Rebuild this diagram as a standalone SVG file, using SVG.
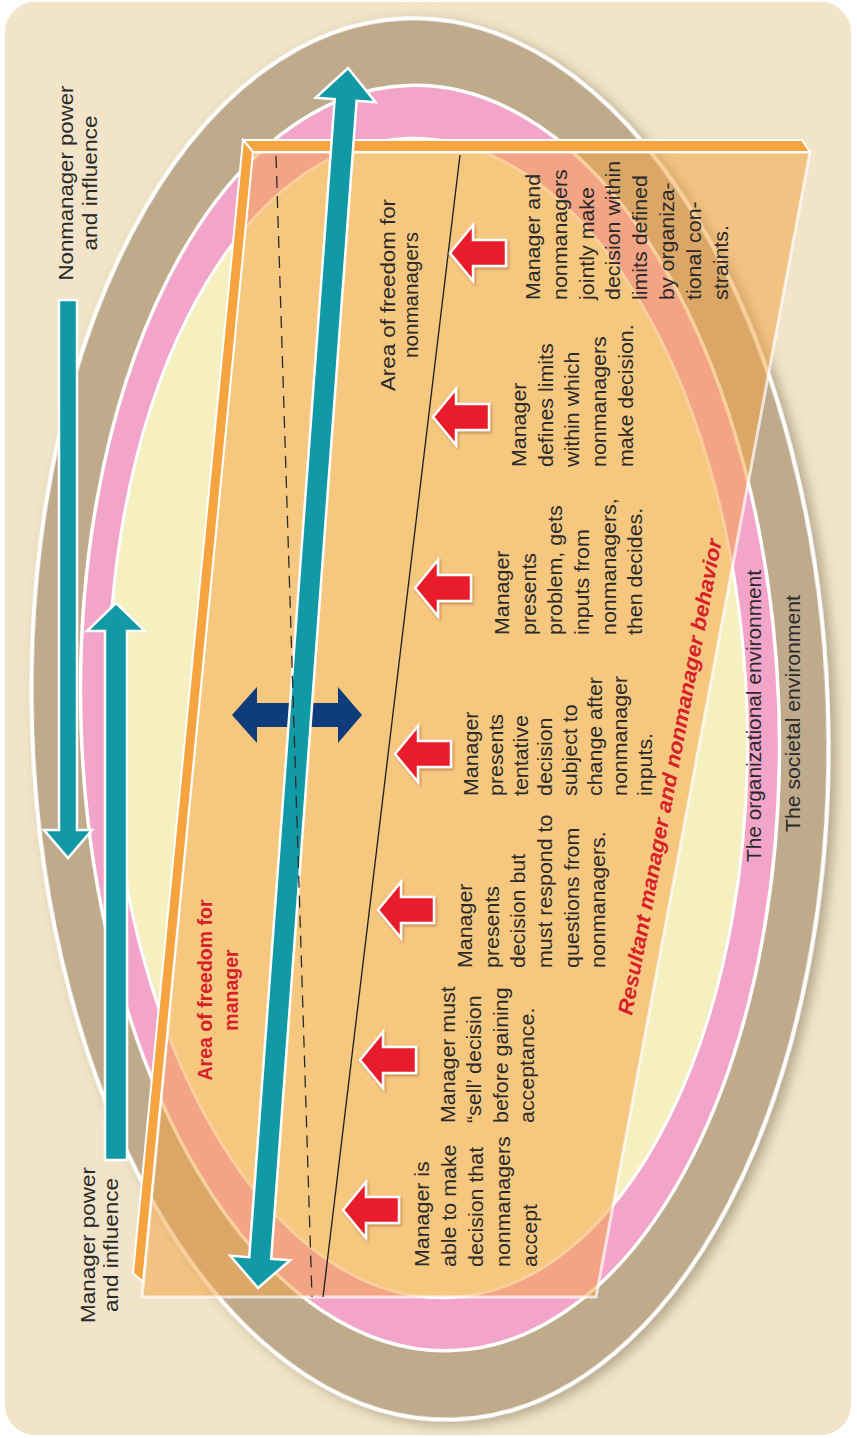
<svg xmlns="http://www.w3.org/2000/svg" width="857" height="1438" viewBox="0 0 857 1438">
<defs>
<style>
.t{font-family:"Liberation Sans",Arial,Helvetica,sans-serif;font-size:20px;fill:#2a2a2a}
.rb{font-family:"Liberation Sans",Arial,Helvetica,sans-serif;font-weight:bold;fill:#d6212c}
.teal{fill:#1299a6;stroke:#ffffff;stroke-width:2.5;stroke-linejoin:miter}
.red{fill:#e81f2a;stroke:#ffffff;stroke-width:2.5;filter:url(#sh2)}
.bar{fill:#f6a440;stroke:#ffffff;stroke-width:2}
</style>
<filter id="sh" x="-10%" y="-10%" width="125%" height="125%">
<feDropShadow dx="6" dy="4" stdDeviation="6" flood-color="#6e5e44" flood-opacity="0.45"/>
</filter>
<filter id="sh2" x="-20%" y="-20%" width="150%" height="150%">
<feDropShadow dx="1.5" dy="2" stdDeviation="1.2" flood-color="#7a2a10" flood-opacity="0.35"/>
</filter>
<polygon id="redArrow" points="0,0 23,-28 23,-13 56,-13 56,13 23,13 23,28"/>
</defs>

<rect x="0" y="0" width="857" height="1438" fill="#ffffff"/>
<rect x="5" y="2" width="846" height="1433" rx="30" ry="30" fill="#f1e4c8"/>

<g id="societal-environment">
<ellipse cx="430" cy="719" rx="398" ry="701" transform="rotate(-2 430 719)" fill="#bfab8b" stroke="#ffffff" stroke-width="4" filter="url(#sh)"/>
</g>
<g id="organizational-environment">
<ellipse cx="430" cy="718" rx="349" ry="633" transform="rotate(-2 430 718)" fill="#f2a4c9" stroke="#ffffff" stroke-width="3.5"/>
</g>
<g id="inner-area">
<ellipse cx="428" cy="718" rx="319" ry="580" transform="rotate(-2 428 718)" fill="#f6efbf" stroke="#ffffff" stroke-width="3"/>
</g>

<g id="env-labels">
<text class="t" transform="translate(761,862) rotate(-90)" textLength="292" lengthAdjust="spacingAndGlyphs">The organizational environment</text>
<text class="t" transform="translate(800,832) rotate(-90)" textLength="237" lengthAdjust="spacingAndGlyphs">The societal environment</text>
</g>

<g id="nonmanager-power">
<polygon class="teal" points="59,300 77,300 77,830 92,830 68,858 44,830 59,830"/>
<g class="t" transform="translate(0,183) rotate(-90)" text-anchor="middle">
<text x="0" y="73" textLength="195" lengthAdjust="spacingAndGlyphs">Nonmanager power</text>
<text x="0" y="97" textLength="135" lengthAdjust="spacingAndGlyphs">and influence</text>
</g>
</g>

<g id="manager-power">
<polygon class="teal" points="105,1160 127,1160 127,631 145,631 116,603 87,631 105,631"/>
<g class="t" transform="translate(0,1245) rotate(-90)" text-anchor="middle">
<text x="0" y="95" textLength="156" lengthAdjust="spacingAndGlyphs">Manager power</text>
<text x="0" y="118" textLength="134" lengthAdjust="spacingAndGlyphs">and influence</text>
</g>
</g>

<g id="panel">
<polygon points="252,152 810,152 596,1297 142,1297" fill="#f4a546" fill-opacity="0.53" stroke="#ffffff" stroke-opacity="0.7" stroke-width="3"/>
<polygon class="bar" points="243,140 802,140 810,152 253,152"/>
<polygon class="bar" points="243,140 253,152 143,1282 133,1273"/>
</g>

<g id="connectors">
<line x1="460" y1="155" x2="323" y2="1297" stroke="#1e1e1e" stroke-width="1.3"/>
<polygon id="balance-arrow" points="232,715 257,687 257,703 338,703 338,687 362,715 338,743 338,727 257,727 257,743" fill="#0f3c7a"/>
<polygon id="main-arrow" class="teal" transform="translate(303,678) rotate(4.22)" points="0,-611.6 30,-579.6 11,-579.6 11,581.6 30,581.6 0,611.6 -30,581.6 -11,581.6 -11,-579.6 -30,-579.6"/>
<line x1="276" y1="156" x2="312" y2="1297" stroke="#2a2a2a" stroke-width="1.3" stroke-dasharray="12,8"/>
</g>

<g id="red-arrows">
<use href="#redArrow" class="red" transform="translate(343,1210)"/>
<use href="#redArrow" class="red" transform="translate(360,1060)"/>
<use href="#redArrow" class="red" transform="translate(378,910)"/>
<use href="#redArrow" class="red" transform="translate(395,754)"/>
<use href="#redArrow" class="red" transform="translate(415,588)"/>
<use href="#redArrow" class="red" transform="translate(433,417)"/>
<use href="#redArrow" class="red" transform="translate(450,253)"/>
</g>

<g id="label-area-nonmanagers" class="t" transform="translate(0,295) rotate(-90)" text-anchor="middle">
<text x="0" y="395" textLength="192" lengthAdjust="spacingAndGlyphs">Area of freedom for</text>
<text x="0" y="418" textLength="126" lengthAdjust="spacingAndGlyphs">nonmanagers</text>
</g>

<g id="label-area-manager" class="rb" font-size="19.5" transform="translate(0,990) rotate(-90)" text-anchor="middle">
<text x="0" y="212">Area of freedom for</text>
<text x="0" y="238">manager</text>
</g>

<g id="label-resultant">
<text class="rb" font-size="21" font-style="italic" transform="translate(632,1016) rotate(-79.3)" textLength="484" lengthAdjust="spacingAndGlyphs">Resultant manager and nonmanager behavior</text>
</g>

<g id="step1" class="t" transform="translate(429,1267) rotate(-90) scale(1.07,1)">
<text x="0" y="0">Manager is</text>
<text x="0" y="27">able to make</text>
<text x="0" y="54">decision that</text>
<text x="0" y="81">nonmanagers</text>
<text x="0" y="108">accept</text>
</g>

<g id="step2" class="t" transform="translate(455,1123) rotate(-90) scale(1.07,1)">
<text x="0" y="0">Manager must</text>
<text x="0" y="26.5">“sell’ decision</text>
<text x="0" y="53">before gaining</text>
<text x="0" y="79.5">acceptance.</text>
</g>

<g id="step3" class="t" transform="translate(472,968) rotate(-90) scale(1.07,1)">
<text x="0" y="0">Manager</text>
<text x="0" y="26.7">presents</text>
<text x="0" y="53.4">decision but</text>
<text x="0" y="80.1">must respond to</text>
<text x="0" y="106.8">questions from</text>
<text x="0" y="133.5">nonmanagers.</text>
</g>

<g id="step4" class="t" transform="translate(478,796) rotate(-90) scale(1.07,1)">
<text x="0" y="0">Manager</text>
<text x="0" y="24.8">presents</text>
<text x="0" y="49.6">tentative</text>
<text x="0" y="74.4">decision</text>
<text x="0" y="99.2">subject to</text>
<text x="0" y="124">change after</text>
<text x="0" y="148.8">nonmanager</text>
<text x="0" y="173.6">inputs.</text>
</g>

<g id="step5" class="t" transform="translate(509,635) rotate(-90) scale(1.07,1)">
<text x="0" y="0">Manager</text>
<text x="0" y="26.7">presents</text>
<text x="0" y="53.4">problem, gets</text>
<text x="0" y="80.1">inputs from</text>
<text x="0" y="106.8">nonmanagers,</text>
<text x="0" y="133.5">then decides.</text>
</g>

<g id="step6" class="t" transform="translate(526,467) rotate(-90) scale(1.07,1)">
<text x="0" y="0">Manager</text>
<text x="0" y="26.7">defines limits</text>
<text x="0" y="53.4">within which</text>
<text x="0" y="80.1">nonmanagers</text>
<text x="0" y="106.8">make decision.</text>
</g>

<g id="step7" class="t" transform="translate(540,300) rotate(-90) scale(1.07,1)">
<text x="0" y="0">Manager and</text>
<text x="0" y="26.8">nonmanagers</text>
<text x="0" y="53.6">jointly make</text>
<text x="0" y="80.4">decision within</text>
<text x="0" y="107.2">limits defined</text>
<text x="0" y="134">by organiza-</text>
<text x="0" y="160.8">tional con-</text>
<text x="0" y="187.6">straints.</text>
</g>
</svg>
